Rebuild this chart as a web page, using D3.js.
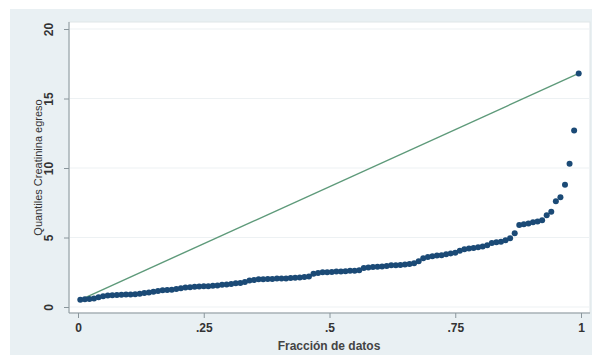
<!DOCTYPE html>
<html>
<head>
<meta charset="utf-8">
<script src="https://cdn.jsdelivr.net/npm/d3@7"></script>
<style>
  body { margin: 0; background: #fff; }
  text { font-family: "Liberation Sans", Arial, sans-serif; }
</style>
</head>
<body>
<div id="chart"></div>
<script>
// Sorted values of creatinine at discharge
const creatinina = [
  0.52, 0.55, 0.58, 0.62, 0.7, 0.78, 0.82, 0.85, 0.87, 0.88,
  0.9, 0.9, 0.92, 0.95, 1.0, 1.05, 1.1, 1.15, 1.2, 1.22,
  1.25, 1.3, 1.35, 1.4, 1.42, 1.45, 1.48, 1.5, 1.5, 1.52,
  1.55, 1.6, 1.62, 1.65, 1.7, 1.72, 1.8, 1.9, 1.95, 2.0,
  2.0, 2.02, 2.02, 2.05, 2.05, 2.05, 2.08, 2.1, 2.12, 2.15,
  2.2, 2.4, 2.45, 2.5, 2.5, 2.52, 2.55, 2.55, 2.58, 2.6,
  2.6, 2.65, 2.8, 2.85, 2.88, 2.9, 2.92, 2.95, 3.0, 3.0,
  3.02, 3.05, 3.1, 3.15, 3.3, 3.5, 3.6, 3.65, 3.7, 3.72,
  3.8, 3.85, 3.9, 4.05, 4.15, 4.2, 4.25, 4.3, 4.35, 4.45,
  4.6, 4.65, 4.7, 4.8, 4.95, 5.3, 5.9, 5.95, 6.0, 6.1,
  6.15, 6.25, 6.6, 6.85, 7.6, 7.9, 8.8, 10.3, 12.7, 16.8
];
const yTicks = [0, 5, 10, 15, 20];
const xTicks = [0, 0.25, 0.5, 0.75, 1];
const xTickLabels = ["0", ".25", ".5", ".75", "1"];
const yTitle = "Quantiles Creatinina egreso";
const xTitle = "Fracción de datos";

const width = 592, height = 357;
const n = creatinina.length;
const points = creatinina.map((v, i) => ({ f: (i + 0.5) / n, v: v }));

const svg = d3.select("#chart").append("svg")
  .attr("width", width)
  .attr("height", height);

// outer graph region
svg.append("rect")
  .attr("x", 10).attr("y", 9)
  .attr("width", 582).attr("height", 346)
  .attr("fill", "#e9f0f3");

// plot region
const plot = { left: 69, top: 22, right: 590, bottom: 313 };
svg.append("rect")
  .attr("x", plot.left).attr("y", plot.top)
  .attr("width", plot.right - plot.left).attr("height", plot.bottom - plot.top)
  .attr("fill", "#fff")
  .attr("stroke", "#dfe5e8");

const x = d3.scaleLinear().domain([0, 1]).range([78, 581]);
const y = d3.scaleLinear().domain([0, 20]).range([307, 29]);

// gridlines
svg.append("g")
  .selectAll("line")
  .data(yTicks)
  .join("line")
  .attr("x1", plot.left + 1).attr("x2", plot.right - 1)
  .attr("y1", d => y(d)).attr("y2", d => y(d))
  .attr("stroke", "#edf1f3")
  .attr("stroke-width", 1);

// y axis
const yAxis = svg.append("g")
  .attr("transform", "translate(" + plot.left + ",0)")
  .call(d3.axisLeft(y).tickValues(yTicks).tickSize(5).tickPadding(5));
yAxis.select(".domain")
  .attr("d", "M0," + plot.top + "V" + plot.bottom)
  .attr("stroke", "#8a969c");
yAxis.selectAll(".tick line").attr("stroke", "#8a969c");
yAxis.selectAll(".tick text")
  .attr("transform", "rotate(-90)")
  .attr("x", 0).attr("y", -16)
  .attr("text-anchor", "middle")
  .attr("dy", "0")
  .attr("font-size", 12)
  .attr("fill", "#333");

// x axis
const xAxis = svg.append("g")
  .attr("transform", "translate(0," + plot.bottom + ")")
  .call(d3.axisBottom(x).tickValues(xTicks).tickFormat((d, i) => xTickLabels[i]).tickSize(5).tickPadding(5));
xAxis.select(".domain")
  .attr("d", "M" + plot.left + ",0H" + plot.right)
  .attr("stroke", "#8a969c");
xAxis.selectAll(".tick line").attr("stroke", "#8a969c");
xAxis.selectAll(".tick text")
  .attr("font-size", 12)
  .attr("font-weight", "bold")
  .attr("fill", "#333");
yAxis.selectAll(".tick text").attr("font-weight", "bold");

// axis titles
svg.append("text")
  .attr("transform", "translate(42," + ((plot.top + plot.bottom) / 2) + ") rotate(-90)")
  .attr("text-anchor", "middle")
  .attr("font-size", 11)
  .attr("fill", "#333")
  .text(yTitle);

svg.append("text")
  .attr("x", 329).attr("y", 350)
  .attr("text-anchor", "middle")
  .attr("font-size", 12)
  .attr("font-weight", "bold")
  .attr("fill", "#444")
  .text(xTitle);

// reference line from first to last quantile
const first = points[0], last = points[n - 1];
svg.append("line")
  .attr("x1", x(first.f)).attr("y1", y(first.v))
  .attr("x2", x(last.f)).attr("y2", y(last.v))
  .attr("stroke", "#5e9a7a")
  .attr("stroke-width", 1.4);

// quantile points
svg.append("g")
  .selectAll("circle")
  .data(points)
  .join("circle")
  .attr("cx", d => x(d.f))
  .attr("cy", d => y(d.v))
  .attr("r", 3)
  .attr("fill", "#1b4a76");
</script>
</body>
</html>
